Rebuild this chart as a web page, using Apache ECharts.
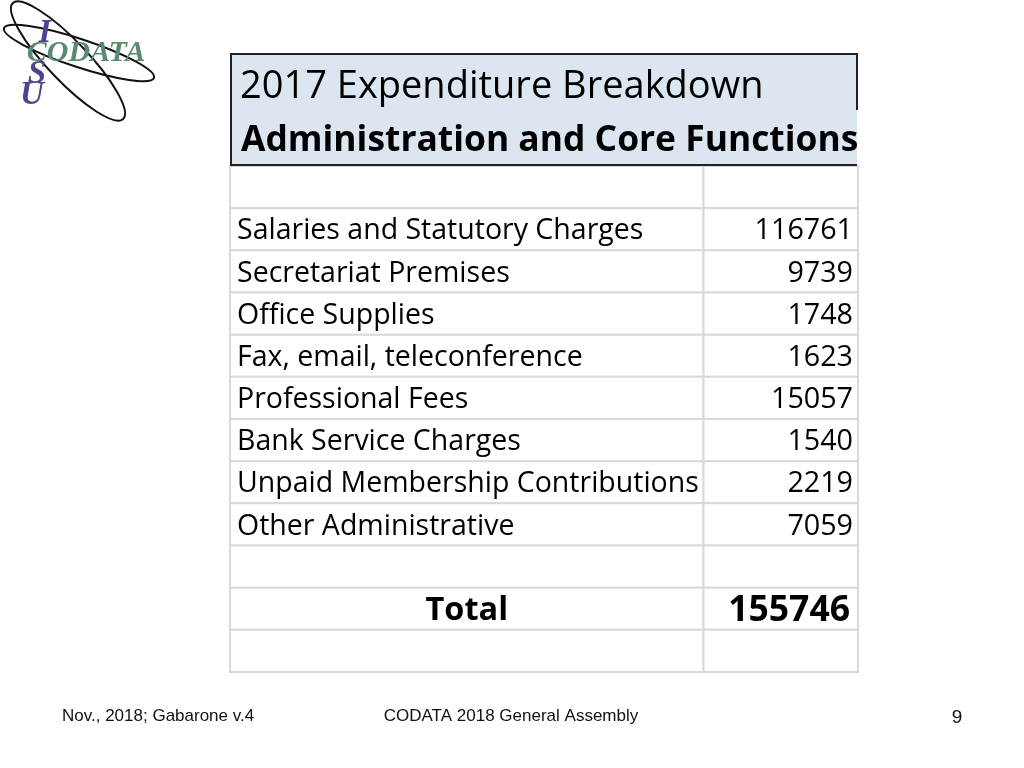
<!DOCTYPE html>
<html><head><meta charset="utf-8">
<script src="https://cdn.jsdelivr.net/npm/echarts@6/dist/echarts.min.js"></script>
<style>html,body{margin:0;padding:0;background:#fff}#main{width:1024px;height:768px}</style>
</head><body><div id="main"></div>
<script>
// ---- data ----
const titleLine1 = '2017 Expenditure Breakdown';
const titleLine2 = 'Administration and Core Functions';
const categories = [
  'Salaries and Statutory Charges',
  'Secretariat Premises',
  'Office Supplies',
  'Fax, email, teleconference',
  'Professional Fees',
  'Bank Service Charges',
  'Unpaid Membership Contributions',
  'Other Administrative'
];
const values = [116761, 9739, 1748, 1623, 15057, 1540, 2219, 7059];
const totalLabel = 'Total';
const totalValue = 155746;
const footerLeft = 'Nov., 2018; Gabarone v.4';
const footerCenter = 'CODATA 2018 General Assembly';
const pageNumber = '9';

// ---- rows of the table (blank rows kept as in the slide) ----
const rows = [{kind: 'blank', label: '', value: ''}];
categories.forEach((c, i) => rows.push({kind: 'item', label: c, value: String(values[i])}));
rows.push({kind: 'blank', label: '', value: ''});
rows.push({kind: 'total', label: totalLabel, value: String(totalValue)});
rows.push({kind: 'blank', label: '', value: ''});

const FONT = '"Open Sans", "Noto Sans", sans-serif';
const SERIF = '"Liberation Serif", serif';
const SANS = '"Liberation Sans", Arial, sans-serif';
const colSplit = 0.754;

const chart = echarts.init(document.getElementById('main'));
chart.setOption({
  backgroundColor: '#ffffff',
  animation: false,
  grid: {left: 230, right: 166, top: 166, bottom: 96},
  xAxis: {type: 'value', min: 0, max: 1, show: false},
  yAxis: {type: 'category', data: rows.map((r, i) => String(i)), inverse: true, show: false},
  series: [{
    type: 'custom',
    data: rows.map((r, i) => ({value: [0, i], name: r.label})),
    renderItem: function (params, api) {
      const cs = params.coordSys;
      const i = params.dataIndex;
      const r = rows[i];
      const c = api.coord([0, i]);
      const h = api.size([0, 1])[1];
      const top = c[1] - h / 2;
      const sx = api.coord([colSplit, i])[0];
      const right = cs.x + cs.width;
      const bold = r.kind === 'total';
      const children = [
        {type: 'rect', shape: {x: cs.x, y: top, width: sx - cs.x, height: h},
         style: {fill: '#fff', stroke: '#d9d9d9', lineWidth: 2}},
        {type: 'rect', shape: {x: sx, y: top, width: right - sx, height: h},
         style: {fill: '#fff', stroke: '#d9d9d9', lineWidth: 2}}
      ];
      if (r.label) {
        children.push({type: 'text', style: {
          text: r.label, x: bold ? (cs.x + sx) / 2 : cs.x + 7, y: c[1] + 2,
          fill: '#000', fontSize: bold ? 32.5 : 28.5, fontFamily: FONT, fontWeight: bold ? 'bold' : 'normal',
          align: bold ? 'center' : 'left', verticalAlign: 'middle'}});
      }
      if (r.value) {
        children.push({type: 'text', style: {
          text: r.value, x: right - (bold ? 8 : 5), y: c[1] + 2,
          fill: '#000', fontSize: bold ? 35.5 : 28.7, fontFamily: FONT, fontWeight: bold ? 'bold' : 'normal',
          align: 'right', verticalAlign: 'middle'}});
      }
      return {type: 'group', children: children};
    }
  }],
  graphic: [
    // title box
    {type: 'rect', shape: {x: 230, y: 53, width: 627, height: 113}, style: {fill: '#dce6f1'}, z: 10},
    {type: 'polyline', shape: {points: [[857, 110], [857, 54], [231, 54], [231, 165], [857, 165]]},
     style: {stroke: '#222', lineWidth: 2, fill: null}, z: 11},
    {type: 'text', style: {text: titleLine1, x: 240, y: 87, fontSize: 38, fontFamily: FONT,
      fill: '#000', verticalAlign: 'middle'}, z: 12},
    {type: 'text', style: {text: titleLine2, x: 241, y: 141, fontSize: 35.4, fontFamily: FONT,
      fontWeight: 'bold', fill: '#000', verticalAlign: 'middle'}, z: 12},
    // logo
    {type: 'ellipse', x: 68, y: 61, rotation: -0.81, shape: {cx: 0, cy: 0, rx: 80, ry: 20},
     style: {fill: null, stroke: '#111', lineWidth: 2}, z: 5},
    {type: 'ellipse', x: 79, y: 53, rotation: -0.32, shape: {cx: 0, cy: 0, rx: 79, ry: 14},
     style: {fill: null, stroke: '#111', lineWidth: 2}, z: 5},
    {type: 'text', style: {text: 'I', x: 45, y: 33, fontSize: 33, fontFamily: SERIF,
      fontStyle: 'italic', fontWeight: 'bold', fill: '#4f4390', align: 'center', verticalAlign: 'middle'}, z: 6},
    {type: 'text', style: {text: 'CODATA', x: 86, y: 53, fontSize: 30, fontFamily: SERIF,
      fontStyle: 'italic', fontWeight: 'bold', fill: '#5a8a70', align: 'center', verticalAlign: 'middle'}, z: 7},
    {type: 'text', style: {text: 'S', x: 37, y: 74, fontSize: 33, fontFamily: SERIF,
      fontStyle: 'italic', fontWeight: 'bold', fill: '#4f4390', align: 'center', verticalAlign: 'middle'}, z: 6},
    {type: 'text', style: {text: 'U', x: 32, y: 95, fontSize: 33, fontFamily: SERIF,
      fontStyle: 'italic', fontWeight: 'bold', fill: '#4f4390', align: 'center', verticalAlign: 'middle'}, z: 6},
    // footer
    {type: 'text', style: {text: footerLeft, x: 62, y: 716, fontSize: 17, fontFamily: SANS,
      fill: '#111', verticalAlign: 'middle'}},
    {type: 'text', style: {text: footerCenter, x: 511, y: 716, fontSize: 17, fontFamily: SANS,
      fill: '#111', align: 'center', verticalAlign: 'middle'}},
    {type: 'text', style: {text: pageNumber, x: 957, y: 718, fontSize: 19, fontFamily: SANS,
      fill: '#111', align: 'center', verticalAlign: 'middle'}}
  ]
});
</script></body></html>
